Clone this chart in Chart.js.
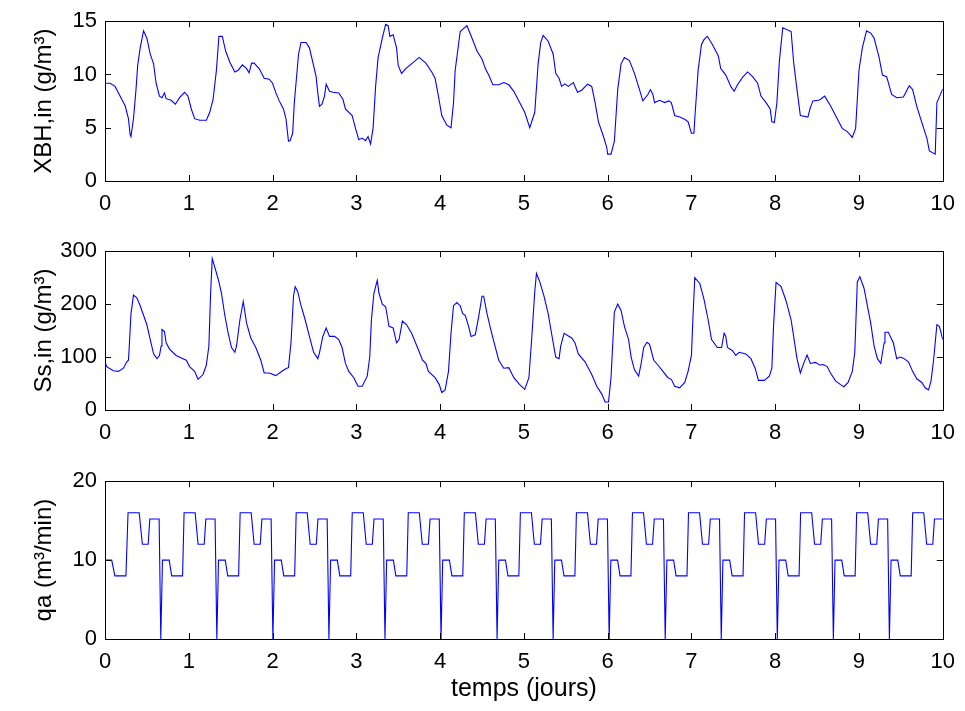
<!DOCTYPE html>
<html>
<head>
<meta charset="utf-8">
<script src="https://cdn.jsdelivr.net/npm/chart.js@4.4.1/dist/chart.umd.min.js"></script>
<style>
  html, body { margin: 0; padding: 0; background: #fff; }
  #wrap { position: relative; width: 965px; height: 711px; }
  canvas { position: absolute; left: 0; }
</style>
</head>
<body>
<div id="wrap">
  <canvas id="c-xbh" width="965" height="230" style="top:0"></canvas>
  <canvas id="c-ss" width="965" height="230" style="top:230px"></canvas>
  <canvas id="c-qa" width="965" height="251" style="top:460px"></canvas>
</div>
<script>
// XBH,in (g/m3) against time in days
const xbhT = [0, 0.06, 0.12, 0.22, 0.24, 0.28, 0.30, 0.31, 0.34, 0.37, 0.39, 0.42, 0.46, 0.50, 0.54, 0.58, 0.61, 0.65, 0.68, 0.71, 0.73, 0.79, 0.84, 0.89, 0.95, 0.99,
  1.03, 1.07, 1.13, 1.21, 1.25, 1.29, 1.33, 1.36, 1.40, 1.44, 1.49, 1.55, 1.59, 1.64, 1.69, 1.72, 1.75, 1.78, 1.84, 1.90, 1.96,
  2.00, 2.04, 2.08, 2.13, 2.16, 2.19, 2.21, 2.24, 2.26, 2.28, 2.31, 2.34, 2.40, 2.44, 2.48, 2.52, 2.54, 2.56, 2.59, 2.62, 2.64, 2.68, 2.72, 2.79, 2.84, 2.87, 2.95, 2.99,
  3.03, 3.07, 3.11, 3.14, 3.17, 3.20, 3.23, 3.26, 3.31, 3.35, 3.38, 3.40, 3.44, 3.48, 3.50, 3.54, 3.59, 3.67, 3.75, 3.83, 3.90, 3.94, 3.98,
  4.02, 4.08, 4.13, 4.16, 4.18, 4.24, 4.32, 4.38, 4.44, 4.50, 4.54, 4.58, 4.63, 4.70, 4.76, 4.82, 4.88, 4.94,
  5.01, 5.07, 5.13, 5.17, 5.20, 5.23, 5.29, 5.35, 5.38, 5.42, 5.45, 5.49, 5.53, 5.59, 5.64, 5.69, 5.76, 5.81, 5.85, 5.89, 5.95, 5.99,
  6.00, 6.04, 6.08, 6.12, 6.16, 6.20, 6.26, 6.32, 6.38, 6.42, 6.48, 6.51, 6.54, 6.56, 6.62, 6.68, 6.73, 6.76, 6.80, 6.86, 6.92, 6.96,
  7.00, 7.03, 7.04, 7.08, 7.12, 7.15, 7.19, 7.25, 7.32, 7.35, 7.41, 7.47, 7.51, 7.55, 7.61, 7.67, 7.73, 7.79, 7.83, 7.89, 7.94, 7.96, 7.99,
  8.02, 8.05, 8.09, 8.19, 8.22, 8.26, 8.30, 8.39, 8.42, 8.45, 8.53, 8.59, 8.66, 8.74, 8.80, 8.86, 8.92, 8.96,
  9.00, 9.04, 9.09, 9.14, 9.18, 9.24, 9.28, 9.33, 9.39, 9.45, 9.53, 9.60, 9.64, 9.69, 9.76, 9.81, 9.84, 9.91, 9.93, 9.98, 10.0];
const xbhV = [9.18, 9.18, 8.88, 7.36, 7.06, 5.85, 4.33, 4.18, 5.85, 8.58, 10.85, 12.5, 14.1, 13.4, 11.9, 11.0, 9.18, 7.97, 7.82, 8.27, 7.73, 7.58, 7.21, 7.82, 8.33, 7.97,
  6.76, 5.85, 5.70, 5.70, 6.45, 7.67, 10.4, 13.58, 13.58, 12.2, 11.15, 10.24, 10.4, 10.9, 10.55, 10.15, 11.06, 11.06, 10.55, 9.64, 9.55,
  9.18, 8.27, 7.52, 6.76, 5.85, 3.73, 3.79, 4.48, 7.36, 9.18, 11.9, 13.0, 13.0, 12.5, 11.15, 9.79, 8.27, 7.0, 7.21, 7.97, 9.09, 8.42, 8.33, 8.27, 7.67, 6.76, 6.15, 4.94,
  3.88, 4.03, 3.79, 4.18, 3.48, 4.94, 8.88, 11.6, 13.42, 14.7, 14.58, 13.58, 13.73, 12.5, 10.85, 10.1, 10.55, 11.06, 11.6, 11.06, 10.24, 9.64, 7.97,
  6.15, 5.24, 5.0, 7.36, 10.4, 14.03, 14.58, 13.42, 12.2, 11.45, 10.55, 9.94, 9.03, 9.03, 9.24, 9.03, 8.42, 7.52,
  6.45, 5.0, 6.45, 11.0, 12.97, 13.67, 13.12, 11.9, 10.1, 9.64, 8.88, 9.12, 8.88, 9.24, 8.33, 8.52, 9.09, 8.88, 7.36, 5.55, 4.18, 3.12,
  2.52, 2.52, 3.73, 8.58, 11.0, 11.6, 11.3, 10.1, 8.58, 7.52, 8.12, 8.58, 8.12, 7.36, 7.58, 7.36, 7.52, 7.36, 6.15, 6.0, 5.79, 5.55,
  4.48, 4.48, 5.85, 10.4, 12.82, 13.27, 13.58, 12.82, 11.76, 10.55, 9.94, 8.88, 8.42, 9.03, 9.73, 10.24, 9.79, 9.18, 7.97, 7.36, 6.76, 5.55, 5.48,
  7.36, 11.3, 14.39, 14.03, 11.15, 8.58, 6.15, 6.0, 6.91, 7.52, 7.61, 7.97, 7.06, 5.85, 4.94, 4.64, 4.09, 4.94,
  10.4, 12.5, 14.09, 13.88, 13.42, 11.6, 9.94, 9.79, 8.12, 7.82, 7.88, 8.94, 8.58, 7.0, 5.24, 4.03, 2.82, 2.52, 7.36, 8.27, 8.64];

// Ss,in (g/m3) against time in days
const ssT = [0, 0.02, 0.10, 0.16, 0.22, 0.26, 0.28, 0.29, 0.31, 0.34, 0.38, 0.42, 0.46, 0.50, 0.54, 0.58, 0.62, 0.65, 0.67, 0.68, 0.71, 0.73, 0.77, 0.85, 0.93, 0.97,
  1.01, 1.07, 1.11, 1.17, 1.21, 1.24, 1.26, 1.28, 1.31, 1.35, 1.39, 1.43, 1.47, 1.51, 1.55, 1.57, 1.61, 1.65, 1.69, 1.74, 1.80, 1.86, 1.90, 1.96,
  2.04, 2.12, 2.17, 2.19, 2.22, 2.25, 2.27, 2.30, 2.34, 2.39, 2.44, 2.49, 2.54, 2.56, 2.60, 2.64, 2.68, 2.74, 2.79, 2.83, 2.87, 2.91, 2.97,
  3.02, 3.07, 3.13, 3.16, 3.18, 3.21, 3.25, 3.27, 3.31, 3.35, 3.39, 3.44, 3.48, 3.51, 3.55, 3.60, 3.66, 3.73, 3.79, 3.83, 3.86, 3.94, 3.99,
  4.02, 4.06, 4.10, 4.13, 4.16, 4.20, 4.24, 4.27, 4.30, 4.34, 4.37, 4.42, 4.46, 4.50, 4.52, 4.56, 4.60, 4.64, 4.70, 4.76, 4.82, 4.88, 4.95,
  5.01, 5.06, 5.09, 5.13, 5.15, 5.19, 5.24, 5.29, 5.33, 5.38, 5.42, 5.44, 5.48, 5.57, 5.61, 5.65, 5.73, 5.81, 5.87, 5.93, 5.97,
  6.01, 6.04, 6.08, 6.12, 6.16, 6.20, 6.25, 6.28, 6.32, 6.37, 6.40, 6.43, 6.47, 6.50, 6.55, 6.60, 6.66, 6.72, 6.76, 6.80, 6.86, 6.92, 6.96,
  7.00, 7.02, 7.04, 7.10, 7.15, 7.20, 7.24, 7.31, 7.36, 7.39, 7.41, 7.43, 7.49, 7.53, 7.57, 7.65, 7.71, 7.76, 7.80, 7.87, 7.93, 7.96, 7.98,
  8.01, 8.07, 8.13, 8.19, 8.22, 8.26, 8.30, 8.34, 8.38, 8.42, 8.48, 8.53, 8.57, 8.62, 8.66, 8.72, 8.78, 8.82, 8.87, 8.92, 8.95, 8.98,
  9.01, 9.06, 9.10, 9.14, 9.18, 9.22, 9.26, 9.30, 9.31, 9.35, 9.41, 9.45, 9.49, 9.53, 9.59, 9.64, 9.69, 9.75, 9.79, 9.83, 9.86, 9.89, 9.93, 9.96, 10.0];
const ssV = [91, 82, 74, 73, 79, 91, 94, 121, 182, 217, 212, 197, 179, 161, 133, 106, 97, 103, 121, 152, 148, 127, 115, 103, 97, 94,
  82, 73, 58, 67, 85, 121, 218, 286, 270, 248, 221, 179, 145, 118, 109, 121, 170, 205, 164, 136, 118, 94, 70, 70,
  65, 74, 79, 80, 127, 215, 233, 224, 197, 170, 139, 109, 97, 108, 139, 155, 139, 139, 133, 118, 88, 73, 61,
  45, 45, 64, 100, 170, 221, 245, 221, 200, 195, 158, 155, 127, 133, 168, 161, 145, 118, 94, 88, 73, 61, 48,
  33, 38, 73, 145, 197, 203, 197, 182, 179, 158, 139, 142, 176, 215, 215, 182, 155, 130, 94, 79, 80, 61, 48,
  39, 61, 127, 224, 258, 242, 215, 182, 145, 100, 97, 121, 145, 136, 127, 106, 91, 67, 45, 30, 15,
  15, 61, 185, 200, 188, 158, 133, 100, 76, 64, 88, 118, 128, 124, 94, 85, 73, 61, 58, 45, 42, 52, 73,
  103, 182, 250, 239, 209, 170, 133, 118, 118, 145, 139, 118, 112, 103, 109, 106, 97, 79, 56, 56, 64, 79, 158,
  241, 233, 206, 170, 139, 97, 70, 88, 104, 88, 90, 85, 86, 82, 70, 55, 48, 44, 52, 73, 109, 242,
  252, 230, 197, 164, 121, 97, 88, 127, 147, 147, 127, 97, 100, 98, 91, 73, 59, 52, 42, 38, 55, 94, 161, 158, 133];

// qa (m3/min) against time in days
const qaT = [0, 0.003, 0.08, 0.118, 0.25, 0.275, 0.408, 0.446, 0.515, 0.535, 0.646,
  0.666, 0.686, 0.766, 0.796, 0.926, 0.944, 1.076, 1.111, 1.184, 1.204, 1.314,
  1.335, 1.355, 1.435, 1.465, 1.595, 1.613, 1.745, 1.780, 1.853, 1.873, 1.983,
  2.004, 2.024, 2.104, 2.134, 2.264, 2.282, 2.414, 2.449, 2.522, 2.542, 2.652,
  2.673, 2.693, 2.773, 2.803, 2.933, 2.951, 3.083, 3.118, 3.191, 3.211, 3.321,
  3.342, 3.362, 3.442, 3.472, 3.602, 3.620, 3.752, 3.787, 3.860, 3.880, 3.990,
  4.011, 4.031, 4.111, 4.141, 4.271, 4.289, 4.421, 4.456, 4.529, 4.549, 4.659,
  4.680, 4.700, 4.780, 4.810, 4.940, 4.958, 5.090, 5.125, 5.198, 5.218, 5.328,
  5.349, 5.369, 5.449, 5.479, 5.609, 5.627, 5.759, 5.794, 5.867, 5.887, 5.997,
  6.018, 6.038, 6.118, 6.148, 6.278, 6.296, 6.428, 6.463, 6.536, 6.556, 6.666,
  6.687, 6.707, 6.787, 6.817, 6.947, 6.965, 7.097, 7.132, 7.205, 7.225, 7.335,
  7.356, 7.376, 7.456, 7.486, 7.616, 7.634, 7.766, 7.801, 7.874, 7.894, 8.004,
  8.025, 8.045, 8.125, 8.155, 8.285, 8.303, 8.435, 8.470, 8.543, 8.563, 8.673,
  8.694, 8.714, 8.794, 8.824, 8.954, 8.972, 9.104, 9.139, 9.212, 9.232, 9.342,
  9.363, 9.383, 9.463, 9.493, 9.623, 9.641, 9.773, 9.808, 9.881, 9.901, 10.0];
const qaV = [0, 10, 10, 8, 8, 16, 16, 12, 12, 15.2, 15.2,
  0, 10, 10, 8, 8, 16, 16, 12, 12, 15.2, 15.2,
  0, 10, 10, 8, 8, 16, 16, 12, 12, 15.2, 15.2,
  0, 10, 10, 8, 8, 16, 16, 12, 12, 15.2, 15.2,
  0, 10, 10, 8, 8, 16, 16, 12, 12, 15.2, 15.2,
  0, 10, 10, 8, 8, 16, 16, 12, 12, 15.2, 15.2,
  0, 10, 10, 8, 8, 16, 16, 12, 12, 15.2, 15.2,
  0, 10, 10, 8, 8, 16, 16, 12, 12, 15.2, 15.2,
  0, 10, 10, 8, 8, 16, 16, 12, 12, 15.2, 15.2,
  0, 10, 10, 8, 8, 16, 16, 12, 12, 15.2, 15.2,
  0, 10, 10, 8, 8, 16, 16, 12, 12, 15.2, 15.2,
  0, 10, 10, 8, 8, 16, 16, 12, 12, 15.2, 15.2,
  0, 10, 10, 8, 8, 16, 16, 12, 12, 15.2, 15.2,
  0, 10, 10, 8, 8, 16, 16, 12, 12, 15.2, 15.2,
  0, 10, 10, 8, 8, 16, 16, 12, 12, 15.2, 15.2];

const xTicks = [0, 1, 2, 3, 4, 5, 6, 7, 8, 9, 10];
const xbhTicks = [0, 5, 10, 15];
const ssTicks = [0, 100, 200, 300];
const qaTicks = [0, 10, 20];

const TICK = 6;
Chart.defaults.font.family = "'Liberation Sans', Arial, sans-serif";
Chart.defaults.font.size = 22;
Chart.defaults.color = "#000";

// matlab-style box with inward ticks on all four sides
const boxFrame = {
  id: "boxFrame",
  afterDatasetsDraw(chart) {
    const { ctx, chartArea: a, scales } = chart;
    ctx.save();
    ctx.strokeStyle = "#000";
    ctx.lineWidth = 1;
    ctx.beginPath();
    scales.x.ticks.forEach((t) => {
      const px = Math.round(scales.x.getPixelForValue(t.value)) + 0.5;
      ctx.moveTo(px, a.bottom); ctx.lineTo(px, a.bottom - TICK);
      ctx.moveTo(px, a.top); ctx.lineTo(px, a.top + TICK);
    });
    scales.y.ticks.forEach((t) => {
      const py = Math.round(scales.y.getPixelForValue(t.value)) + 0.5;
      ctx.moveTo(a.left, py); ctx.lineTo(a.left + TICK, py);
      ctx.moveTo(a.right, py); ctx.lineTo(a.right - TICK, py);
    });
    ctx.stroke();
    ctx.strokeRect(Math.round(a.left) + 0.5, Math.round(a.top) + 0.5, Math.round(a.right - a.left), Math.round(a.bottom - a.top));
    ctx.restore();
  },
};

function panel(id, t, v, yTicks, yTitle, top, xHeight, xTitle) {
  const yMax = yTicks[yTicks.length - 1];
  return new Chart(document.getElementById(id), {
    type: "line",
    data: {
      datasets: [{
        data: t.map((x, i) => ({ x, y: v[i] })),
        borderColor: "#0000ff",
        borderWidth: 1.1,
        pointRadius: 0,
        tension: 0,
        fill: false,
      }],
    },
    options: {
      responsive: false,
      animation: false,
      devicePixelRatio: 1,
      layout: { padding: { top, right: 19, left: 0, bottom: 0 } },
      plugins: { legend: { display: false }, tooltip: { enabled: false } },
      scales: {
        x: {
          type: "linear", min: 0, max: 10,
          afterBuildTicks: (s) => { s.ticks = xTicks.map((value) => ({ value })); },
          afterFit: (s) => { s.height = xHeight; },
          grid: { display: false, drawTicks: false },
          border: { display: false },
          ticks: { padding: 10, maxRotation: 0, autoSkip: false },
          title: { display: !!xTitle, text: xTitle || "", font: { size: 25 }, padding: { top: 0, bottom: 7 } },
        },
        y: {
          type: "linear", min: 0, max: yMax,
          afterBuildTicks: (s) => { s.ticks = yTicks.map((value) => ({ value })); },
          afterFit: (s) => { s.width = 105; },
          grid: { display: false, drawTicks: false },
          border: { display: false },
          ticks: { padding: 8 },
          title: { display: true, text: yTitle, font: { size: 24 }, padding: { top: 30, bottom: 0 } },
        },
      },
    },
    plugins: [boxFrame],
  });
}

panel("c-xbh", xbhT, xbhV, xbhTicks, "XBH,in (g/m³)", 16, 49);
panel("c-ss", ssT, ssV, ssTicks, "Ss,in (g/m³)", 15, 50);
panel("c-qa", qaT, qaV, qaTicks, "qa (m³/min)", 14, 72, "temps (jours)");
</script>
</body>
</html>
